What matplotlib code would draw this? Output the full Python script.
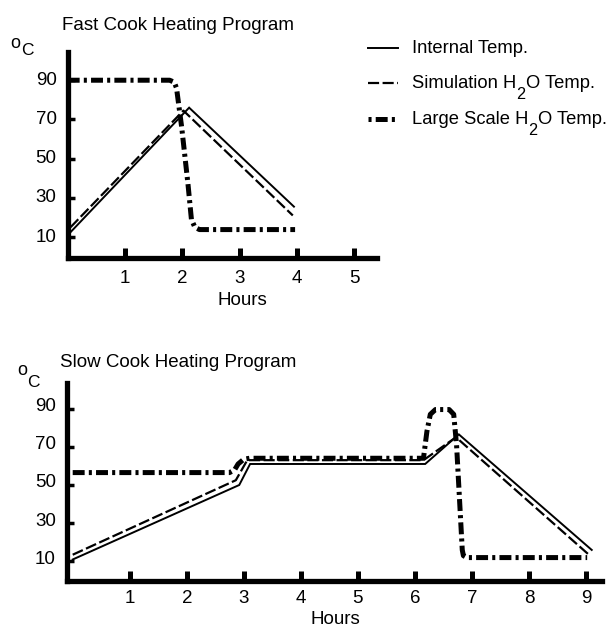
import matplotlib
matplotlib.use("Agg")
import matplotlib.pyplot as plt
from matplotlib.lines import Line2D
from matplotlib.transforms import ScaledTranslation

plt.rcParams['font.family'] = ['Liberation Sans', 'DejaVu Sans']
plt.rcParams['lines.scale_dashes'] = False

# Fast cook heating program (hours, deg C)
fast_internal_h = [0.05, 2.12, 3.95]
fast_internal_t = [12.5, 76, 25.5]
fast_sim_h = [0.05, 2.02, 3.93]
fast_sim_t = [15, 74.5, 21]
fast_large_h = [0, 1.78, 1.86, 1.9, 1.99, 2.1, 2.16, 2.22, 2.3, 3.97]
fast_large_t = [90, 90, 89, 86, 66, 37, 19, 15, 13.8, 13.8]

# Slow cook heating program (hours, deg C)
slow_internal_h = [0, 2.92, 3.11, 6.18, 6.77, 9.1]
slow_internal_t = [11, 50, 61, 61, 76.5, 16]
slow_sim_h = [0, 2.86, 3.06, 6.15, 6.72, 9.05]
slow_sim_t = [13.5, 52.5, 63, 63, 75, 13.5]
slow_large_h = [0, 2.75, 2.84, 2.9, 3.0, 3.1, 6.15, 6.21, 6.27, 6.36,
                6.6, 6.68, 6.73, 6.83, 6.85, 6.91, 7.0, 9.02]
slow_large_t = [56.5, 56.5, 58, 61, 63.5, 64, 64, 78, 87, 89.5,
                89.5, 87, 71, 16, 13, 12, 12, 12]

temp_ticks = [10, 30, 50, 70, 90]
fast_hour_ticks = [1, 2, 3, 4, 5]
slow_hour_ticks = [1, 2, 3, 4, 5, 6, 7, 8, 9]

W, H = 611, 627
fig = plt.figure(figsize=(W / 100, H / 100), dpi=100)
renderer = fig.canvas.get_renderer()


def px_axes(left, top, right, bottom):
    return fig.add_axes([left / W, 1 - bottom / H, (right - left) / W, (bottom - top) / H])


def fxy(x, y):
    return x / W, 1 - y / H


solid_style = dict(color='black', lw=1.4, ls='-', solid_joinstyle='miter')
dash_style = dict(color='black', lw=1.6, ls=(0, (8, 2.5)))
dashdot_style = dict(color='black', lw=3.6, ls=(0, (8.6, 3, 2.2, 3)))


def style_axes(ax, hours, xpad, lift):
    for side in ('top', 'right'):
        ax.spines[side].set_visible(False)
    for side in ('left', 'bottom'):
        ax.spines[side].set_linewidth(3.8)
    ax.set_xticks(hours)
    ax.set_yticks(temp_ticks)
    ax.tick_params(axis='x', direction='in', length=7, width=3.6, pad=xpad, labelsize=13.5)
    ax.tick_params(axis='y', direction='in', length=5, width=2.5, pad=8, labelsize=13.5)
    # temperature numbers sit a little above their ticks
    shift = ScaledTranslation(0, lift / 100, fig.dpi_scale_trans)
    for lab in ax.get_yticklabels():
        lab.set_transform(lab.get_transform() + shift)
    ax.patch.set_alpha(0)


# top panel
ax1 = px_axes(67.7, 52, 377, 258)
ax1.plot(fast_internal_h, fast_internal_t, **solid_style)
ax1.plot(fast_sim_h, fast_sim_t, **dash_style)
ax1.plot(fast_large_h, fast_large_t, **dashdot_style)
ax1.set_xlim(0, 5.4)
ax1.set_ylim(-0.7, 104.4)
style_axes(ax1, fast_hour_ticks, 8.5, 2)

# bottom panel
ax2 = px_axes(67, 383, 602, 580.5)
ax2.plot(slow_internal_h, slow_internal_t, **solid_style)
ax2.plot(slow_sim_h, slow_sim_t, **dash_style)
ax2.plot(slow_large_h, slow_large_t, **dashdot_style)
ax2.set_xlim(-0.1, 9.28)
ax2.set_ylim(0, 103.4)
style_axes(ax2, slow_hour_ticks, 7, 4)

# titles, units, axis names
fig.text(*fxy(62, 30), 'Fast Cook Heating Program', fontsize=13.5, va='baseline')
fig.text(*fxy(60, 367), 'Slow Cook Heating Program', fontsize=13.5, va='baseline')
fig.text(*fxy(10, 48), 'o', fontsize=13, va='baseline')
fig.text(*fxy(21, 55), 'C', fontsize=12.5, va='baseline')
fig.text(*fxy(17, 375), 'o', fontsize=13, va='baseline')
fig.text(*fxy(27, 387), 'C', fontsize=12.5, va='baseline')
fig.text(*fxy(242, 305), 'Hours', fontsize=13.5, ha='center', va='baseline')
fig.text(*fxy(335, 624), 'Hours', fontsize=13.5, ha='center', va='baseline')


def text_run(x, y, parts, size):
    # parts: (string, drop in px); pieces are laid out left to right
    for s, drop in parts:
        t = fig.text(*fxy(x, y + drop), s, fontsize=size if not drop else size - 1.5,
                     va='baseline')
        x += t.get_window_extent(renderer).width + (1 if drop else 0)


# legend
legend_rows = [
    ([('Internal Temp.', 0)], solid_style, 48, 53, 0),
    ([('Simulation H', 0), ('2', 11), ('O Temp.', 0)], dash_style, 83, 88, 0),
    ([('Large Scale H', 0), ('2', 11), ('O Temp.', 0)], dashdot_style, 119, 124, 11.6),
]
for parts, style, ly, ty, offset in legend_rows:
    st = dict(style)
    if offset:
        st['ls'] = (offset, st['ls'][1])
    x0, y0 = fxy(368, ly)
    x1, _ = fxy(398, ly)
    fig.add_artist(Line2D([x0, x1], [y0, y0], transform=fig.transFigure, **st))
    text_run(412, ty, parts, 13.2)

fig.savefig('out.png', dpi=100)
